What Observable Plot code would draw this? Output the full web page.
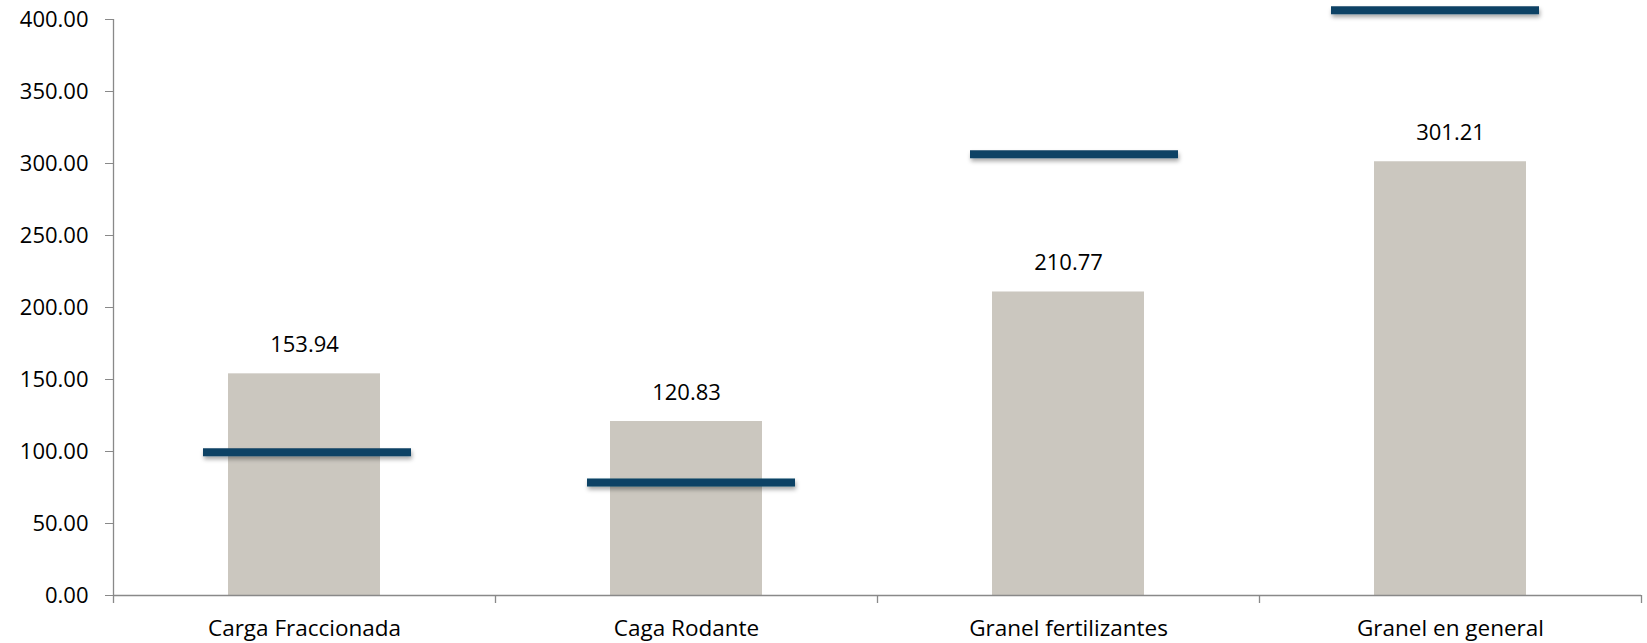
<!DOCTYPE html>
<html>
<head>
<meta charset="utf-8">
<script src="https://cdn.jsdelivr.net/npm/d3@7"></script>
<script src="https://cdn.jsdelivr.net/npm/@observablehq/plot@0.6"></script>
<style>
  html, body { margin: 0; padding: 0; background: #fff; }
  #chart { width: 1647px; height: 643px; }
</style>
</head>
<body>
<div id="chart"></div>
<script>
const categories = ["Carga Fraccionada", "Caga Rodante", "Granel fertilizantes", "Granel en general"];
const barValues = [153.94, 120.83, 210.77, 301.21];
const dashValues = [99.5, 78.5, 306.5, 406.5];
const yTicks = [0, 50, 100, 150, 200, 250, 300, 350, 400];
// horizontal nudge (px) of each dash marker, as drawn in the original
const dashShift = [3, 5, 6, -15];

const data = categories.map((c, i) => ({cat: c, bar: barValues[i], dash: dashValues[i]}));

const W = 1647, H = 643;
const mL = 113, mR = 6, mT = 19, mB = 48;
const band = (W - mL - mR) / categories.length;
const halfBand = band / 2;
const barInset = (band - 152) / 2;
const dashInset = (band - 208) / 2;
const axisColor = "#898989";
const font = "'Open Sans', 'Noto Sans', sans-serif";

const chart = Plot.plot({
  width: W,
  height: H,
  marginLeft: mL,
  marginRight: mR,
  marginTop: mT,
  marginBottom: mB,
  style: {fontFamily: font, fontSize: "22px", color: "#000", background: "#fff"},
  x: {domain: categories, padding: 0, label: null},
  y: {domain: [0, 400], label: null},
  marks: [
    Plot.barY(data, {x: "cat", y: "bar", fill: "#cbc7bf", insetLeft: barInset, insetRight: barInset}),
    Plot.ruleY([0], {stroke: axisColor, strokeWidth: 1.3}),
    Plot.ruleX(categories.slice(0, 1), {x: d => d, y1: 0, y2: 400, dx: -halfBand, stroke: axisColor, strokeWidth: 1.3}),
    Plot.ruleX(categories, {x: d => d, y1: 0, y2: 0, dx: -halfBand, insetBottom: -8, stroke: axisColor, strokeWidth: 1.3}),
    Plot.ruleX(categories.slice(-1), {x: d => d, y1: 0, y2: 0, dx: halfBand, insetBottom: -8, stroke: axisColor, strokeWidth: 1.3}),
    Plot.axisY({ticks: yTicks, tickFormat: d3.format(".2f"), tickSize: 8, tickPadding: 17, stroke: axisColor, fill: "#000", fontSize: 22}),
    Plot.axisX({tickSize: 0, tickPadding: 25, fill: "#000", fontSize: 22.5}),
    Plot.text(data, {x: "cat", y: "bar", text: d => d3.format(".2f")(d.bar), dy: -29, fill: "#000", fontSize: 22}),
    ...data.map((d, i) => Plot.tickY([d], {x: "cat", y: "dash", dx: dashShift[i], stroke: "#0a4265", strokeWidth: 8, insetLeft: dashInset, insetRight: dashInset}))
  ]
});

// drop shadow on the dashes
const svgNS = "http://www.w3.org/2000/svg";
const defs = document.createElementNS(svgNS, "defs");
defs.innerHTML = '<filter id="dashShadow" filterUnits="userSpaceOnUse" x="0" y="0" width="' + W + '" height="' + H + '"><feDropShadow dx="1" dy="3" stdDeviation="2" flood-color="#000" flood-opacity="0.35"/></filter>';
chart.insertBefore(defs, chart.firstChild);
chart.querySelectorAll('g[aria-label="tick"]').forEach(g => g.setAttribute("filter", "url(#dashShadow)"));

document.getElementById("chart").appendChild(chart);
</script>
</body>
</html>
